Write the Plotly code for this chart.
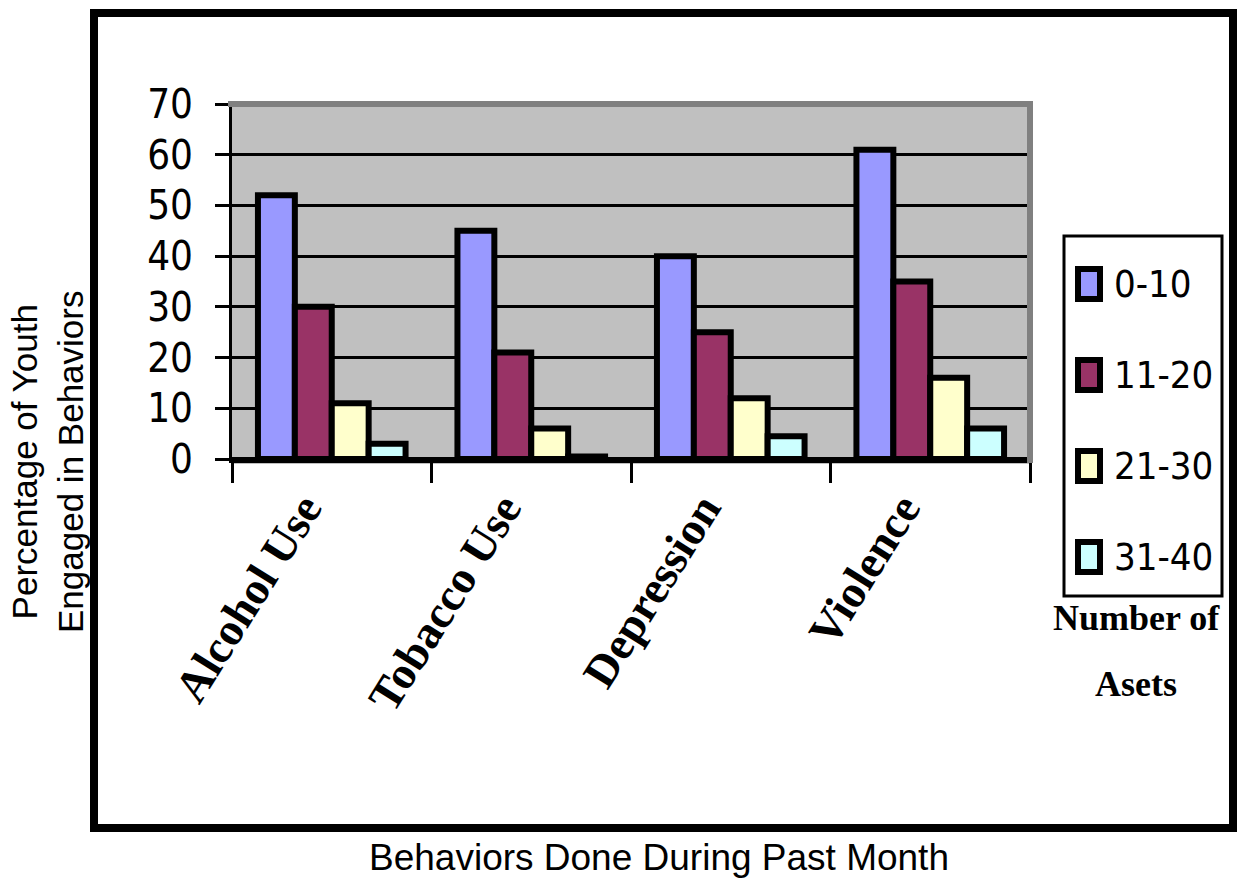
import plotly.graph_objects as go

categories = ["Alcohol Use", "Tobacco Use", "Depression", "Violence"]
series_names = ["0-10", "11-20", "21-30", "31-40"]
v_0_10 = [52, 45, 40, 61]
v_11_20 = [30, 21, 25, 35]
v_21_30 = [11, 6, 12, 16]
v_31_40 = [3, 0.5, 4.5, 6]
series_values = [v_0_10, v_11_20, v_21_30, v_31_40]
colors = ["#9999FF", "#993366", "#FFFFCC", "#CCFFFF"]
y_tick_vals = [0, 10, 20, 30, 40, 50, 60, 70]

W, H = 1241, 888
L, R, T, B = 232, 1030, 104, 459

def px(x):
    return (x - L) / (R - L)

def py(y):
    return (B - y) / (B - T)

NARROW = "Liberation Sans Narrow, Arial Narrow, DejaVu Sans Condensed, sans-serif"

fig = go.Figure()
for name, vals, col in zip(series_names, series_values, colors):
    fig.add_trace(go.Bar(
        x=categories, y=vals, name=name,
        marker=dict(color=col, line=dict(color="black", width=6)),
        showlegend=False,
    ))

shapes = []
annotations = []

# outer frame
shapes.append(dict(type="rect", xref="paper", yref="paper",
                   x0=px(94), x1=px(1233), y0=py(828), y1=py(13),
                   line=dict(color="black", width=8), layer="below"))
# gray 3D border of plot area
shapes.append(dict(type="line", xref="paper", yref="paper",
                   x0=px(L - 4), x1=px(R + 3), y0=1, y1=1,
                   line=dict(color="#808080", width=6), layer="above"))
shapes.append(dict(type="line", xref="paper", yref="paper",
                   x0=1, x1=1, y0=py(B + 4), y1=1,
                   line=dict(color="#808080", width=6), layer="above"))
shapes.append(dict(type="line", xref="paper", yref="paper",
                   x0=0, x1=1, y0=py(B + 3), y1=py(B + 3),
                   line=dict(color="#808080", width=3), layer="below"))

# custom legend
shapes.append(dict(type="rect", xref="paper", yref="paper",
                   x0=px(1064), x1=px(1222), y0=py(596), y1=py(236),
                   line=dict(color="black", width=3), fillcolor="white", layer="below"))
item_y = [284, 375, 466, 557]
for name, col, cy in zip(series_names, colors, item_y):
    shapes.append(dict(type="rect", xref="paper", yref="paper",
                       x0=px(1078), x1=px(1100), y0=py(cy + 15), y1=py(cy - 15),
                       line=dict(color="black", width=6), fillcolor=col, layer="above"))
    annotations.append(dict(xref="paper", yref="paper", x=px(1112), y=py(cy),
                            xanchor="left", yanchor="middle", showarrow=False,
                            text=name, font=dict(family=NARROW, size=38, color="black")))

annotations.append(dict(xref="paper", yref="paper", x=px(1136), y=py(618),
                        xanchor="center", yanchor="middle", showarrow=False,
                        text="Number of",
                        font=dict(family="Liberation Serif", size=36, color="black", weight="bold")))
annotations.append(dict(xref="paper", yref="paper", x=px(1136), y=py(684),
                        xanchor="center", yanchor="middle", showarrow=False,
                        text="Asets",
                        font=dict(family="Liberation Serif", size=36, color="black", weight="bold")))

# axis titles
annotations.append(dict(xref="paper", yref="paper", x=px(47), y=py(462),
                        xanchor="center", yanchor="middle", showarrow=False, textangle=-90,
                        text="Percentage of Youth<br>Engaged in Behaviors",
                        font=dict(family="Liberation Sans", size=35, color="black")))
annotations.append(dict(xref="paper", yref="paper", x=px(659), y=py(857),
                        xanchor="center", yanchor="middle", showarrow=False,
                        text="Behaviors Done During Past Month",
                        font=dict(family="Liberation Sans", size=37, color="black")))

fig.update_layout(
    width=W, height=H,
    margin=dict(l=L, r=W - R, t=T, b=H - B, pad=0),
    paper_bgcolor="white",
    plot_bgcolor="#C0C0C0",
    barmode="group",
    bargap=0.26,
    bargroupgap=0,
    showlegend=False,
    shapes=shapes,
    annotations=annotations,
    xaxis=dict(
        type="category",
        showline=True, linecolor="black", linewidth=4,
        ticks="outside", tickson="boundaries", ticklen=20, tickwidth=3, tickcolor="black",
        tickangle=-58,
        ticklabelshift=-28,
        tickfont=dict(family="Liberation Serif", size=46, color="black", weight="bold"),
        showgrid=False,
    ),
    yaxis=dict(
        range=[0, 70],
        tickvals=y_tick_vals,
        ticktext=[str(v) for v in y_tick_vals],
        showline=True, linecolor="black", linewidth=3,
        ticks="outside", ticklen=14, tickwidth=3, tickcolor="black",
        tickfont=dict(family=NARROW, size=40, color="black"),
        ticklabelstandoff=14,
        showgrid=True, gridcolor="black", gridwidth=3,
        zeroline=True, zerolinecolor="black", zerolinewidth=4,
    ),
)

fig.write_html("out.html", config={"displayModeBar": False},
               post_script="document.body.style.margin='0';document.body.style.overflow='hidden';")
